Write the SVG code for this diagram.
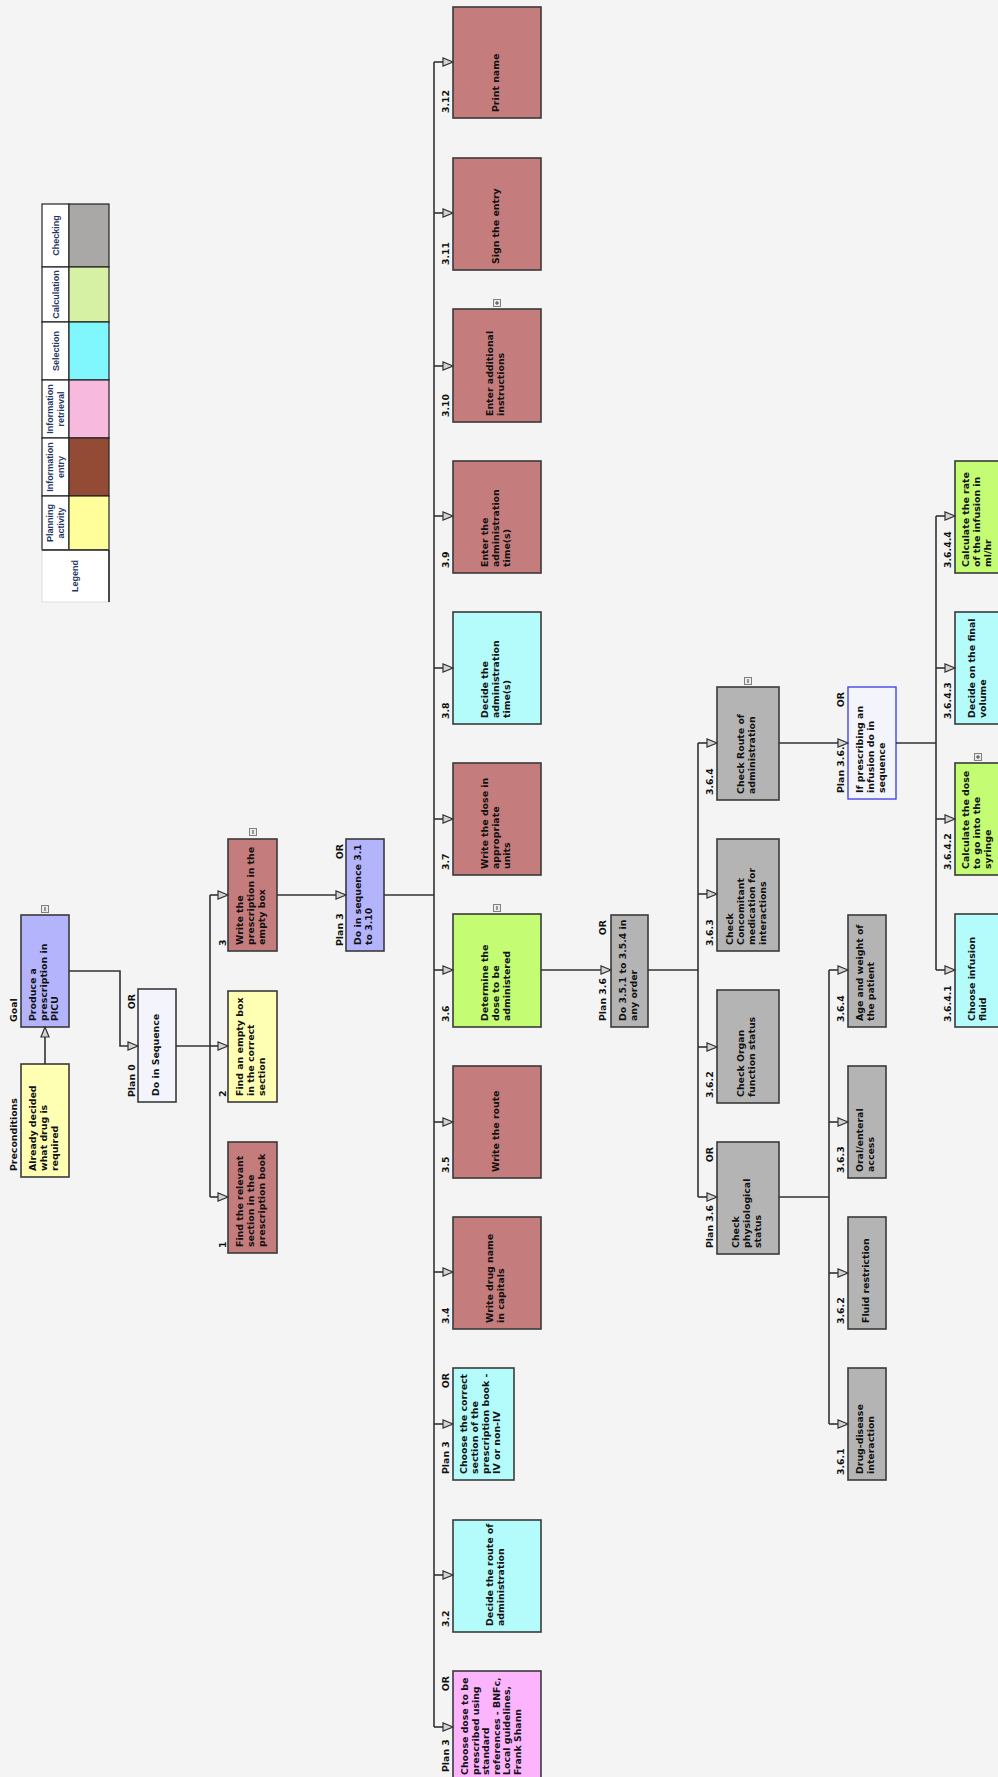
<svg xmlns="http://www.w3.org/2000/svg" width="998" height="1777" viewBox="0 0 998 1777">
<style>
.box{stroke:#3a3a3a;stroke-width:1.6}
.ie{fill:#c47c7c}.pl{fill:#ffffb4}.sel{fill:#b4fcfc}.calc{fill:#c4fc74}.chk{fill:#b4b4b4}.ret{fill:#fcb4fc}.plan{fill:#b4b4fc}.seq{fill:#f4f4fc}
.blue{stroke:#4646e0;stroke-width:1.4}
.t{font-family:"DejaVu Sans",Verdana,sans-serif;font-weight:bold;font-size:9.4px;fill:#111}
.c{fill:none;stroke:#333;stroke-width:1.6}
.ico{fill:#ececec;stroke:#808080;stroke-width:1}
.icol{stroke:#444;stroke-width:1}
.lgc{stroke:#222;stroke-width:1.2}
.lg{font-family:"Liberation Sans",Arial,sans-serif;font-weight:bold;font-size:9px;fill:#1f3864;text-anchor:middle}
</style>
<defs>
<marker id="a" viewBox="-11 -5 12 10" refX="0" refY="0" markerWidth="12" markerHeight="10" markerUnits="userSpaceOnUse" orient="auto">
<path d="M0,0 L-10,-4 L-10,4 Z" fill="#d4d4d4" stroke="#333" stroke-width="1.2"/>
</marker>
</defs>
<rect x="0" y="0" width="998" height="1777" fill="#f4f4f4"/>

<g id="legend">
<rect class="lgc" x="42" y="204" width="27" height="63" fill="#fff"/>
<rect class="lgc" x="69" y="204" width="40" height="63" fill="#aaa7a7"/>
<rect class="lgc" x="42" y="267" width="27" height="55" fill="#fff"/>
<rect class="lgc" x="69" y="267" width="40" height="55" fill="#d6f0a4"/>
<rect class="lgc" x="42" y="322" width="27" height="58" fill="#fff"/>
<rect class="lgc" x="69" y="322" width="40" height="58" fill="#80f6fd"/>
<rect class="lgc" x="42" y="380" width="27" height="58" fill="#fff"/>
<rect class="lgc" x="69" y="380" width="40" height="58" fill="#f7b9dd"/>
<rect class="lgc" x="42" y="438" width="27" height="58" fill="#fff"/>
<rect class="lgc" x="69" y="438" width="40" height="58" fill="#934b36"/>
<rect class="lgc" x="42" y="496" width="27" height="54" fill="#fff"/>
<rect class="lgc" x="69" y="496" width="40" height="54" fill="#fffe9b"/>
<rect x="42" y="550" width="67" height="52" fill="#fff" stroke="#ddd" stroke-width="1"/>
<path d="M109,550 V602 M42,550 H109" fill="none" stroke="#222" stroke-width="1.6"/>
<text class="lg" transform="translate(58.5,235.5) rotate(-90)">Checking</text>
<text class="lg" transform="translate(58.5,294.5) rotate(-90)">Calculation</text>
<text class="lg" transform="translate(58.5,351) rotate(-90)">Selection</text>
<text class="lg" transform="translate(52.5,409) rotate(-90)"><tspan x="0">Information</tspan><tspan x="0" dy="11.5">retrieval</tspan></text>
<text class="lg" transform="translate(52.5,467) rotate(-90)"><tspan x="0">Information</tspan><tspan x="0" dy="11.5">entry</tspan></text>
<text class="lg" transform="translate(52.5,523) rotate(-90)"><tspan x="0">Planning</tspan><tspan x="0" dy="11.5">activity</tspan></text>
<text class="lg" transform="translate(78,576) rotate(-90)">Legend</text>
</g>

<g id="n-goal">
<rect class="box plan" x="21" y="915" width="48" height="112"/>
<text class="t" transform="translate(35.5,1021) rotate(-90)"><tspan x="0">Produce a</tspan><tspan x="0" dy="11">prescription in</tspan><tspan x="0" dy="11">PICU</tspan></text>
<text class="t" transform="translate(16.5,1022) rotate(-90)">Goal</text>
<rect class="ico" x="41.5" y="905.5" width="7" height="7"/><path class="icol" d="M45,907 V911"/>
</g>
<g id="n-pre">
<rect class="box pl" x="21" y="1064" width="48" height="113"/>
<text class="t" transform="translate(35.5,1171) rotate(-90)"><tspan x="0">Already decided</tspan><tspan x="0" dy="11">what drug is</tspan><tspan x="0" dy="11">required</tspan></text>
<text class="t" transform="translate(16.5,1171) rotate(-90)">Preconditions</text>
</g>
<g id="n-plan0">
<rect class="box seq" x="138" y="989" width="38" height="113"/>
<text class="t" transform="translate(158.5,1096) rotate(-90)">Do in Sequence</text>
<text class="t" transform="translate(134.5,1097) rotate(-90)">Plan 0</text>
<text class="t" text-anchor="end" transform="translate(134.5,994) rotate(-90)">OR</text>
</g>
<g id="n-1">
<rect class="box ie" x="228" y="1142" width="49" height="111"/>
<text class="t" transform="translate(243,1247) rotate(-90)"><tspan x="0">Find the relevant</tspan><tspan x="0" dy="11">section in the</tspan><tspan x="0" dy="11">prescription book</tspan></text>
<text class="t" transform="translate(225.5,1248) rotate(-90)">1</text>
</g>
<g id="n-2">
<rect class="box pl" x="228" y="991" width="49" height="111"/>
<text class="t" transform="translate(243,1096) rotate(-90)"><tspan x="0">Find an empty box</tspan><tspan x="0" dy="11">in the correct</tspan><tspan x="0" dy="11">section</tspan></text>
<text class="t" transform="translate(225.5,1097) rotate(-90)">2</text>
</g>
<g id="n-3">
<rect class="box ie" x="228" y="839" width="49" height="112"/>
<text class="t" transform="translate(243,945) rotate(-90)"><tspan x="0">Write the</tspan><tspan x="0" dy="11">prescription in the</tspan><tspan x="0" dy="11">empty box</tspan></text>
<text class="t" transform="translate(225.5,946) rotate(-90)">3</text>
<rect class="ico" x="249.5" y="828.5" width="7" height="7"/><path class="icol" d="M253,830 V834"/>
</g>
<g id="n-plan3">
<rect class="box plan" x="346" y="839" width="38" height="112"/>
<text class="t" transform="translate(361,945) rotate(-90)"><tspan x="0">Do in sequence 3.1</tspan><tspan x="0" dy="11">to 3.10</tspan></text>
<text class="t" transform="translate(342.5,946) rotate(-90)">Plan 3</text>
<text class="t" text-anchor="end" transform="translate(342.5,844) rotate(-90)">OR</text>
</g>

<g id="n-3-1">
<rect class="box ret" x="453" y="1671" width="88" height="110"/>
<text class="t" transform="translate(468,1775) rotate(-90)"><tspan x="0">Choose dose to be</tspan><tspan x="0" dy="10.6">prescribed using</tspan><tspan x="0" dy="10.6">standard</tspan><tspan x="0" dy="10.6">references - BNFc,</tspan><tspan x="0" dy="10.6">Local guidelines,</tspan><tspan x="0" dy="10.6">Frank Shann</tspan></text>
<text class="t" transform="translate(448.5,1772) rotate(-90)">Plan 3</text>
<text class="t" text-anchor="end" transform="translate(448.5,1676) rotate(-90)">OR</text>
</g>
<g id="n-3-2">
<rect class="box sel" x="453" y="1520" width="88" height="112"/>
<text class="t" transform="translate(493,1626) rotate(-90)"><tspan x="0">Decide the route of</tspan><tspan x="0" dy="11">administration</tspan></text>
<text class="t" transform="translate(448.5,1627) rotate(-90)">3.2</text>
</g>
<g id="n-3-3">
<rect class="box sel" x="453" y="1368" width="61" height="112"/>
<text class="t" transform="translate(467,1474) rotate(-90)"><tspan x="0">Choose the correct</tspan><tspan x="0" dy="11">section of the</tspan><tspan x="0" dy="11">prescription book -</tspan><tspan x="0" dy="11">IV or non-IV</tspan></text>
<text class="t" transform="translate(448.5,1474) rotate(-90)">Plan 3</text>
<text class="t" text-anchor="end" transform="translate(448.5,1373) rotate(-90)">OR</text>
</g>
<g id="n-3-4">
<rect class="box ie" x="453" y="1217" width="88" height="112"/>
<text class="t" transform="translate(493,1323) rotate(-90)"><tspan x="0">Write drug name</tspan><tspan x="0" dy="11">in capitals</tspan></text>
<text class="t" transform="translate(448.5,1324) rotate(-90)">3.4</text>
</g>
<g id="n-3-5">
<rect class="box ie" x="453" y="1066" width="88" height="112"/>
<text class="t" transform="translate(498.5,1172) rotate(-90)">Write the route</text>
<text class="t" transform="translate(448.5,1173) rotate(-90)">3.5</text>
</g>
<g id="n-3-6">
<rect class="box calc" x="453" y="914" width="88" height="113"/>
<text class="t" transform="translate(487.5,1021) rotate(-90)"><tspan x="0">Determine the</tspan><tspan x="0" dy="11">dose to be</tspan><tspan x="0" dy="11">administered</tspan></text>
<text class="t" transform="translate(448.5,1022) rotate(-90)">3.6</text>
<rect class="ico" x="493.5" y="904.5" width="7" height="7"/><path class="icol" d="M497,906 V910"/>
</g>
<g id="n-3-7">
<rect class="box ie" x="453" y="763" width="88" height="112"/>
<text class="t" transform="translate(487.5,869) rotate(-90)"><tspan x="0">Write the dose in</tspan><tspan x="0" dy="11">appropriate</tspan><tspan x="0" dy="11">units</tspan></text>
<text class="t" transform="translate(448.5,870) rotate(-90)">3.7</text>
</g>
<g id="n-3-8">
<rect class="box sel" x="453" y="612" width="88" height="112"/>
<text class="t" transform="translate(487.5,718) rotate(-90)"><tspan x="0">Decide the</tspan><tspan x="0" dy="11">administration</tspan><tspan x="0" dy="11">time(s)</tspan></text>
<text class="t" transform="translate(448.5,719) rotate(-90)">3.8</text>
</g>
<g id="n-3-9">
<rect class="box ie" x="453" y="461" width="88" height="112"/>
<text class="t" transform="translate(487.5,567) rotate(-90)"><tspan x="0">Enter the</tspan><tspan x="0" dy="11">administration</tspan><tspan x="0" dy="11">time(s)</tspan></text>
<text class="t" transform="translate(448.5,568) rotate(-90)">3.9</text>
</g>
<g id="n-3-10">
<rect class="box ie" x="453" y="309" width="88" height="113"/>
<text class="t" transform="translate(493,416) rotate(-90)"><tspan x="0">Enter additional</tspan><tspan x="0" dy="11">instructions</tspan></text>
<text class="t" transform="translate(448.5,417) rotate(-90)">3.10</text>
<rect class="ico" x="493.5" y="299.5" width="7" height="7"/><path class="icol" d="M497,301 V305 M495,303 H499"/>
</g>
<g id="n-3-11">
<rect class="box ie" x="453" y="158" width="88" height="112"/>
<text class="t" transform="translate(498.5,264) rotate(-90)">Sign the entry</text>
<text class="t" transform="translate(448.5,265) rotate(-90)">3.11</text>
</g>
<g id="n-3-12">
<rect class="box ie" x="453" y="7" width="88" height="111"/>
<text class="t" transform="translate(498.5,112) rotate(-90)">Print name</text>
<text class="t" transform="translate(448.5,113) rotate(-90)">3.12</text>
</g>

<g id="n-plan36">
<rect class="box chk" x="611" y="915" width="37" height="112"/>
<text class="t" transform="translate(625.5,1021) rotate(-90)"><tspan x="0">Do 3.5.1 to 3.5.4 in</tspan><tspan x="0" dy="11">any order</tspan></text>
<text class="t" transform="translate(606,1021) rotate(-90)">Plan 3.6</text>
<text class="t" text-anchor="end" transform="translate(606,920) rotate(-90)">OR</text>
</g>
<g id="n-phys">
<rect class="box chk" x="717" y="1142" width="62" height="112"/>
<text class="t" transform="translate(738.5,1248) rotate(-90)"><tspan x="0">Check</tspan><tspan x="0" dy="11">physiological</tspan><tspan x="0" dy="11">status</tspan></text>
<text class="t" transform="translate(713,1248) rotate(-90)">Plan 3.6</text>
<text class="t" text-anchor="end" transform="translate(713,1147) rotate(-90)">OR</text>
</g>
<g id="n-organ">
<rect class="box chk" x="717" y="990" width="62" height="113"/>
<text class="t" transform="translate(744,1097) rotate(-90)"><tspan x="0">Check Organ</tspan><tspan x="0" dy="11">function status</tspan></text>
<text class="t" transform="translate(713,1098) rotate(-90)">3.6.2</text>
</g>
<g id="n-conc">
<rect class="box chk" x="717" y="839" width="62" height="112"/>
<text class="t" transform="translate(733,945) rotate(-90)"><tspan x="0">Check</tspan><tspan x="0" dy="11">Concomitant</tspan><tspan x="0" dy="11">medication for</tspan><tspan x="0" dy="11">interactions</tspan></text>
<text class="t" transform="translate(713,946) rotate(-90)">3.6.3</text>
</g>
<g id="n-route">
<rect class="box chk" x="717" y="687" width="62" height="113"/>
<text class="t" transform="translate(744,794) rotate(-90)"><tspan x="0">Check Route of</tspan><tspan x="0" dy="11">administration</tspan></text>
<text class="t" transform="translate(713,795) rotate(-90)">3.6.4</text>
<rect class="ico" x="744.5" y="677.5" width="7" height="7"/><path class="icol" d="M748,679 V683"/>
</g>
<g id="n-age">
<rect class="box chk" x="848" y="915" width="38" height="112"/>
<text class="t" transform="translate(863,1021) rotate(-90)"><tspan x="0">Age and weight of</tspan><tspan x="0" dy="11">the patient</tspan></text>
<text class="t" transform="translate(844,1022) rotate(-90)">3.6.4</text>
</g>
<g id="n-oral">
<rect class="box chk" x="848" y="1066" width="38" height="112"/>
<text class="t" transform="translate(863,1172) rotate(-90)"><tspan x="0">Oral/enteral</tspan><tspan x="0" dy="11">access</tspan></text>
<text class="t" transform="translate(844,1173) rotate(-90)">3.6.3</text>
</g>
<g id="n-fluid">
<rect class="box chk" x="848" y="1217" width="38" height="112"/>
<text class="t" transform="translate(868.5,1323) rotate(-90)">Fluid restriction</text>
<text class="t" transform="translate(844,1324) rotate(-90)">3.6.2</text>
</g>
<g id="n-drugdis">
<rect class="box chk" x="848" y="1368" width="38" height="112"/>
<text class="t" transform="translate(863,1474) rotate(-90)"><tspan x="0">Drug-disease</tspan><tspan x="0" dy="11">interaction</tspan></text>
<text class="t" transform="translate(844,1475) rotate(-90)">3.6.1</text>
</g>
<g id="n-plan364">
<rect class="seq blue" x="848" y="687" width="48" height="112"/>
<text class="t" transform="translate(862.5,793) rotate(-90)"><tspan x="0">If prescribing an</tspan><tspan x="0" dy="11">infusion do in</tspan><tspan x="0" dy="11">sequence</tspan></text>
<text class="t" transform="translate(844,793) rotate(-90)">Plan 3.6.4</text>
<text class="t" text-anchor="end" transform="translate(844,692) rotate(-90)">OR</text>
</g>
<g id="n-3641">
<rect class="box sel" x="955" y="914" width="47" height="113"/>
<text class="t" transform="translate(974.5,1021) rotate(-90)"><tspan x="0">Choose infusion</tspan><tspan x="0" dy="11">fluid</tspan></text>
<text class="t" transform="translate(951,1022) rotate(-90)">3.6.4.1</text>
</g>
<g id="n-3642">
<rect class="box calc" x="955" y="763" width="47" height="112"/>
<text class="t" transform="translate(969,869) rotate(-90)"><tspan x="0">Calculate the dose</tspan><tspan x="0" dy="11">to go into the</tspan><tspan x="0" dy="11">syringe</tspan></text>
<text class="t" transform="translate(951,870) rotate(-90)">3.6.4.2</text>
<rect class="ico" x="974.5" y="753.5" width="7" height="7"/><path class="icol" d="M978,755 V759 M976,757 H980"/>
</g>
<g id="n-3643">
<rect class="box sel" x="955" y="612" width="47" height="112"/>
<text class="t" transform="translate(974.5,718) rotate(-90)"><tspan x="0">Decide on the final</tspan><tspan x="0" dy="11">volume</tspan></text>
<text class="t" transform="translate(951,719) rotate(-90)">3.6.4.3</text>
</g>
<g id="n-3644">
<rect class="box calc" x="955" y="461" width="47" height="112"/>
<text class="t" transform="translate(969,567) rotate(-90)"><tspan x="0">Calculate the rate</tspan><tspan x="0" dy="11">of the infusion in</tspan><tspan x="0" dy="11">ml/hr</tspan></text>
<text class="t" transform="translate(951,568) rotate(-90)">3.6.4.4</text>
</g>

<g id="connectors">
<path class="c" d="M45,1064 V1027" marker-end="url(#a)"/>
<path class="c" d="M69,971 H120 V1046 H138" marker-end="url(#a)"/>
<path class="c" d="M176,1046 H210 M210,895 V1197"/>
<path class="c" d="M210,895 H228" marker-end="url(#a)"/>
<path class="c" d="M210,1046 H228" marker-end="url(#a)"/>
<path class="c" d="M210,1197 H228" marker-end="url(#a)"/>
<path class="c" d="M277,895 H346" marker-end="url(#a)"/>
<path class="c" d="M384,895 H434 M434,62 V1727"/>
<path class="c" d="M434,62 H453" marker-end="url(#a)"/>
<path class="c" d="M434,213 H453" marker-end="url(#a)"/>
<path class="c" d="M434,366 H453" marker-end="url(#a)"/>
<path class="c" d="M434,516 H453" marker-end="url(#a)"/>
<path class="c" d="M434,668 H453" marker-end="url(#a)"/>
<path class="c" d="M434,819 H453" marker-end="url(#a)"/>
<path class="c" d="M434,970 H453" marker-end="url(#a)"/>
<path class="c" d="M434,1122 H453" marker-end="url(#a)"/>
<path class="c" d="M434,1272 H453" marker-end="url(#a)"/>
<path class="c" d="M434,1424 H453" marker-end="url(#a)"/>
<path class="c" d="M434,1575 H453" marker-end="url(#a)"/>
<path class="c" d="M434,1727 H453" marker-end="url(#a)"/>
<path class="c" d="M541,970 H611" marker-end="url(#a)"/>
<path class="c" d="M648,970 H698 M698,743 V1197"/>
<path class="c" d="M698,743 H717" marker-end="url(#a)"/>
<path class="c" d="M698,894 H717" marker-end="url(#a)"/>
<path class="c" d="M698,1047 H717" marker-end="url(#a)"/>
<path class="c" d="M698,1197 H717" marker-end="url(#a)"/>
<path class="c" d="M779,1197 H829 M829,970 V1424"/>
<path class="c" d="M829,970 H848" marker-end="url(#a)"/>
<path class="c" d="M829,1122 H848" marker-end="url(#a)"/>
<path class="c" d="M829,1273 H848" marker-end="url(#a)"/>
<path class="c" d="M829,1424 H848" marker-end="url(#a)"/>
<path class="c" d="M779,743 H848" marker-end="url(#a)"/>
<path class="c" d="M896,743 H936 M936,516 V970"/>
<path class="c" d="M936,516 H955" marker-end="url(#a)"/>
<path class="c" d="M936,668 H955" marker-end="url(#a)"/>
<path class="c" d="M936,819 H955" marker-end="url(#a)"/>
<path class="c" d="M936,970 H955" marker-end="url(#a)"/>
</g>
</svg>
